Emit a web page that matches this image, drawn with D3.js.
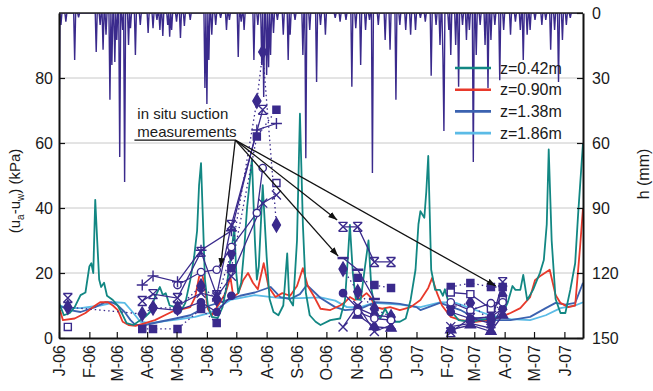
<!DOCTYPE html>
<html lang="en">
<head>
<meta charset="UTF-8" />
<title>Suction and rainfall</title>
<script src="https://d3js.org/d3.v7.min.js"></script>
<style>
  body { margin: 0; background: #fff; }
  svg text { font-family: "Liberation Sans", Arial, Helvetica, sans-serif; fill: #1a1a1a; }
  .grid line { stroke: #c8c8c8; stroke-width: 1; }
  .axis path, .axis line { stroke: #111; }
  .axis path { stroke-width: 2; }
  .axis line { stroke-width: 1.2; }
  .axis text { font-size: 16px; }
  .model { fill: none; stroke-width: 1.8; stroke-linejoin: round; }
  .rain { fill: none; stroke: #3a2a8c; stroke-width: 1.4; }
  .meas-line { fill: none; stroke: #3a2a8c; stroke-width: 1.3; }
  .note { stroke: #111; stroke-width: 1.3; fill: none; }
</style>
</head>
<body>
<div id="chart"></div>
<script>
// x values are days since 1 Jan 2006
const monthLabels = ['J-06','F-06','M-06','A-06','M-06','J-06','J-06','A-06','S-06','O-06','N-06','D-06',
                     'J-07','F-07','M-07','A-07','M-07','J-07'];
const suctionTicks = [0, 20, 40, 60, 80];
const rainTicks = [0, 30, 60, 90, 120, 150];
const lastDay = 535;

// modelled suction (kPa) at four depths: [day, value]
const z042 = [[0,10.8],[5,7],[11,7.7],[16,9.5],[22,13.2],[27,14],[31,22],[33,23],[35,20],[37,42.5],[39,30],[41,18],
  [43,15.7],[46,17],[49,13],[55,11.7],[60,10],[64,7.7],[69,4.6],[76,4],[83,5.5],[88,6.5],[93,8],[98,12.6],[103,15.7],
  [106,13.2],[109,13.8],[113,10],[119,9.5],[124,8],[129,10.8],[134,17.8],[138,25],[141,33],[143,47],[145,53.8],
  [147,36],[149,18],[152,10],[156,6.5],[162,6.1],[167,9.5],[171,15.7],[175,24],[179,34],[181,20],[183,13.8],
  [186,17],[189,27],[192,40],[197,55],[200,30],[202,18],[204,22],[208,47],[212,25],[215,12],[219,8],[224,7],
  [229,10],[233,26],[235,12],[239,10],[243,30],[246,69],[249,35],[252,14],[256,7],[262,5],[267,4],[277,5.5],
  [287,6],[292,11.7],[295,25],[297,34.8],[300,20],[303,12],[308,11.7],[312,21],[316,30],[319,15],[323,8.6],
  [328,6],[333,9],[338,6],[343,5],[348,5],[354,6],[359,11.7],[364,21],[367,35],[369,39],[373,37],[375,45],
  [377,56],[380,21],[384,14.8],[389,14.8],[392,13],[394,15],[397,11.7],[402,7.7],[408,5.5],[420,5],[430,5.5],
  [440,6],[451,6.5],[458,10.8],[463,16],[466,14.8],[471,14.8],[474,19.4],[478,11.7],[484,14.8],[488,17.8],
  [491,20],[495,24],[498,35],[500,58],[503,30],[507,12],[512,7.7],[517,7.7],[522,14.8],[527,23],[530,38],[535,60]];
const z090 = [[1,8.6],[4,5.5],[16,6],[27,7.7],[37,10],[42,11],[50,11],[55,10],[60,8.6],[65,5],[71,4],[78,3.7],
  [88,4.6],[98,5.5],[108,7],[119,8.6],[126,8.9],[134,9.5],[139,12.6],[143,18.8],[146,20],[149,15.4],[152,9],
  [156,7],[164,10.8],[170,13.8],[175,18.8],[178,12.6],[183,13.8],[188,17.8],[193,20],[198,17],[203,15],[209,23],
  [214,15.7],[221,12.6],[228,13.8],[236,13],[243,16],[249,21.5],[254,16],[260,13],[267,9],[277,8.6],[287,10],
  [292,11],[297,12.6],[302,11.7],[308,12.3],[314,13.8],[318,12.6],[323,9.5],[330,9],[338,9.5],[348,8.6],
  [359,9.5],[369,11.7],[377,15.4],[381,18.5],[386,13.8],[391,10],[400,6.5],[410,5.5],[425,5],[440,5.5],
  [451,6.5],[461,7.7],[471,9.2],[481,12.6],[486,17.8],[491,19],[501,21],[507,13.2],[512,10.8],[520,9.5],
  [527,10],[532,28],[535,40]];
const z138 = [[0,10],[11,8.6],[22,8],[37,9.5],[47,11],[54,11],[60,10],[67,8],[73,5.5],[78,4],[88,4],[103,5],
  [119,6],[134,7],[144,8.6],[154,10],[170,11.5],[185,13],[200,14],[216,15.7],[226,12.6],[236,12],[246,13.5],
  [253,16.3],[267,12.3],[282,9.5],[292,8.6],[308,9],[323,11],[338,10.8],[348,10.5],[365,9.5],[369,8.6],
  [389,10.8],[410,8.6],[425,6.1],[440,5.5],[461,5.5],[481,6.5],[497,9.2],[507,10.8],[517,10.3],[527,10.8],[535,17]];
const z186 = [[0,10],[11,9.2],[22,9.2],[42,10],[57,11],[67,10.8],[76,7.7],[83,5],[93,4.6],[108,5.2],[124,5.8],
  [139,6.5],[154,7.7],[175,11.7],[200,13.2],[226,12.3],[246,12.3],[267,12.5],[282,11.5],[294,9.5],[308,9.5],
  [321,10.8],[348,10.3],[369,9.5],[389,11],[405,10.8],[420,9.2],[440,7],[461,5.8],[481,5.5],[497,7],[512,9.2],
  [527,10],[535,11]];

// daily rainfall h (mm): [day, mm]; other days dry
const rainEvents = [[0,61],[2,5.5],[7,4],[16,21.7],[20,2],[38,18],[42,5.5],[45,17],[48,10],[52,40],[54,24],
  [57,22.6],[59,12.5],[62,66.5],[65,7.8],[67,78],[71,14.8],[73,7],[78,19.4],[83,5.5],[91,9.2],[96,7],[100,3.2],
  [103,7.8],[106,10.6],[111,5.5],[113,11],[115,7.8],[120,4],[124,11.5],[128,6],[134,3.2],[149,34.6],[151,42],
  [153,21.7],[156,10],[160,5.5],[165,2.3],[171,7.8],[174,3.2],[183,20.3],[186,4],[189,7.8],[199,21.7],[203,5.5],
  [207,24],[209,38.8],[212,28.6],[214,25],[216,19.4],[219,9.2],[223,3.2],[229,10],[234,21.7],[236,10],[241,3.2],
  [249,19.4],[252,67],[256,7.8],[263,31.8],[267,5.5],[272,10],[282,2.3],[287,4],[293,3.2],[299,34],[303,7],
  [308,24],[313,7.8],[317,3.2],[320,73.8],[326,5.5],[333,12.5],[338,17],[344,40],[348,5.5],[354,7.8],[359,10],
  [364,7.8],[369,2.3],[374,4],[380,29],[385,5.5],[389,14.8],[392,20.8],[393,54.5],[398,7.8],[400,19.4],
  [405,14.8],[408,34],[412,5.5],[416,12.5],[419,7.8],[423,68.8],[426,19.4],[430,5.5],[435,14.8],[438,34.6],
  [441,12.5],[445,5.5],[450,31],[454,7.8],[461,10],[466,4],[471,7.8],[474,21.7],[478,10],[481,7.8],[486,3.2],
  [493,5.5],[497,3.2],[502,17],[506,7.8],[510,31.8],[514,12.5],[518,5.5],[522,2.3]];

// in situ suction measurements (kPa): [day, value], null = not connected
const measPlus = [[85,16.3],[96,19.1],[121,17.3],[145,27],[176,33],[202,64],[222,66]];
const measStar = [[9,12.3],null,[85,11.4],[96,13.5],[121,12.3],[145,26.5],[161,13.2],[176,34.8],[208,70.2],null,
  [290,34.2],[305,34.2],[322,23.4],[339,23.4],null,[400,1.8],[420,6.2],[441,4.5],[453,17.2]];
const measDiamond = [[9,9.5],[85,7.4],[96,9.3],[121,9.2],[145,16],[161,12],[176,26],[202,72.9],[208,88],[222,34.8],null,
  [290,21.2],[305,14.2],[322,9],[339,6.5],null,[400,9.5],[420,10.8],[441,5],[453,13]];
const measSquare = [[85,2.8],[96,2.8],[121,2.8],[145,8.9],[161,4.6],[176,21.5],[202,62],[222,70.2],null,
  [305,18.5],[322,16.3],[339,15.4],null,[400,15.7],[420,16.9],[441,15.7],[453,15.7]];
const measOpenCircle = [[121,16.3],[145,20.3],[161,21],[176,28],[202,38.5],[208,52.3],null,
  [305,8],[322,6],[339,5.5],null,[400,11],[420,8.5],[441,10.7],[453,11]];
const measCross = [[121,10],[145,13.8],[161,12.6],[176,19],[208,41.5],[222,44],null,
  [290,3.4],[305,10],[322,2],[339,4],null,[400,3.5],[420,4.5],[441,3],[453,10]];
const measOpenSquare = [[9,3.4],null,[222,47.7],null,[400,14],[420,13.5],[441,9],[453,11.7]];
const measDash = [[290,24.6],[305,21],[322,12]];
const measCircle = [[96,9.3],[121,8.5],[145,11],[161,8],[176,13],null,
  [290,13.8],[305,9.2],[322,7],[339,6.5],null,[400,8],[420,6],[441,6.5],[453,9]];
const measTriangle = [[305,7],[322,3.5],[339,3],null,[400,2.5],[420,4],[441,2],[453,7]];

// annotation: hub and arrow targets as [day, kPa]
const noteHub = [180, 60.9];
const noteTargets = [[165, 21.8], [284, 36.3], [285, 25.2], [446, 16]];

const W = 653, H = 391;
const margin = { top: 13, right: 70, bottom: 53, left: 59 };

const svg = d3.select('#chart').append('svg').attr('width', W).attr('height', H);

const start = new Date(Date.UTC(2006, 0, 1));
const dayDate = d => d3.utcDay.offset(start, d);
const x = d3.scaleUtc().domain([start, dayDate(lastDay)]).range([margin.left, W - margin.right]);
const y = d3.scaleLinear().domain([0, 100]).range([H - margin.bottom, margin.top]);
const yRain = d3.scaleLinear().domain([0, 150]).range([margin.top, H - margin.bottom]);
const xd = d => x(dayDate(d));

svg.append('defs').append('clipPath').attr('id', 'plot')
  .append('rect').attr('x', margin.left).attr('y', margin.top)
  .attr('width', W - margin.right - margin.left).attr('height', H - margin.bottom - margin.top);
svg.select('defs').append('marker')
  .attr('id', 'arrow').attr('viewBox', '0 0 10 10').attr('refX', 10).attr('refY', 5)
  .attr('markerWidth', 9).attr('markerHeight', 9).attr('markerUnits', 'userSpaceOnUse')
  .attr('orient', 'auto')
  .append('path').attr('d', 'M0,1.5L10,5L0,8.5Z').attr('fill', '#111');

// grid
svg.append('g').attr('class', 'grid')
  .selectAll('line').data(suctionTicks.filter(d => d > 0)).join('line')
  .attr('x1', margin.left).attr('x2', W - margin.right)
  .attr('y1', d => y(d)).attr('y2', d => y(d));

const plot = svg.append('g').attr('clip-path', 'url(#plot)');

// model lines
const modelLine = d3.line().x(d => xd(d[0])).y(d => y(d[1]));
const models = [
  { data: z186, color: '#5bbbe6', label: 'z=1.86m' },
  { data: z138, color: '#3b62b0', label: 'z=1.38m' },
  { data: z090, color: '#e8392b', label: 'z=0.90m' },
  { data: z042, color: '#128783', label: 'z=0.42m' }
];
plot.selectAll('.model').data(models).join('path')
  .attr('class', 'model')
  .attr('stroke', d => d.color)
  .attr('d', d => modelLine(d.data));

// measurements
const purple = '#3a2a8c';
function markerPath(shape) {
  const r = 4.5;
  switch (shape) {
    case 'plus': return `M${-r-1},0H${r+1}M0,${-r-1}V${r+1}`;
    case 'cross': return `M${-r},${-r}L${r},${r}M${-r},${r}L${r},${-r}`;
    case 'star': return `M${-r},${-r}L${r},${r}M${-r},${r}L${r},${-r}M${-r},${-r}H${r}M${-r},${r}H${r}`;
    case 'dash': return `M${-r-1},0H${r+1}`;
    case 'diamond': return d3.symbol(d3.symbolDiamond, 56)();
    case 'square': return d3.symbol(d3.symbolSquare, 50)();
    case 'circle': return d3.symbol(d3.symbolCircle, 42)();
    case 'triangle': return d3.symbol(d3.symbolTriangle, 44)();
  }
}
const measSeries = [
  { data: measSquare, shape: 'square', fill: purple, dotted: true },
  { data: measDiamond, shape: 'diamond', fill: purple, dotted: true },
  { data: measCircle, shape: 'circle', fill: purple, dotted: false },
  { data: measTriangle, shape: 'triangle', fill: purple, dotted: false },
  { data: measCross, shape: 'cross', fill: 'none', dotted: false },
  { data: measOpenSquare, shape: 'square', fill: '#fff', dotted: false },
  { data: measOpenCircle, shape: 'circle', fill: '#fff', dotted: false },
  { data: measDash, shape: 'dash', fill: 'none', dotted: false },
  { data: measStar, shape: 'star', fill: 'none', dotted: false },
  { data: measPlus, shape: 'plus', fill: 'none', dotted: false }
];
const measLine = d3.line().defined(d => d).x(d => xd(d[0])).y(d => y(d[1]));
const mg = plot.append('g');
mg.selectAll('.meas-line').data(measSeries).join('path')
  .attr('class', 'meas-line')
  .attr('stroke-dasharray', d => d.dotted ? '1.5,3' : null)
  .attr('stroke-width', d => d.dotted ? 1.8 : 1.3)
  .attr('d', d => measLine(d.data));
measSeries.forEach(s => {
  mg.append('g').selectAll('path').data(s.data.filter(d => d)).join('path')
    .attr('transform', d => `translate(${xd(d[0])},${y(d[1])})`)
    .attr('d', markerPath(s.shape))
    .attr('fill', s.fill)
    .attr('stroke', purple)
    .attr('stroke-width', s.shape === 'dash' ? 2.5 : 1.4);
});

// rainfall (right axis, hanging from the top)
const rainByDay = new Map(rainEvents);
const rainDaily = d3.range(0, lastDay + 1).map(d => [d, rainByDay.get(d) || 0]);
plot.append('path').attr('class', 'rain')
  .attr('d', d3.line().x(d => xd(d[0])).y(d => yRain(d[1]))(rainDaily));

// top frame
svg.append('line').attr('x1', margin.left).attr('x2', W - margin.right)
  .attr('y1', margin.top).attr('y2', margin.top).attr('stroke', '#222').attr('stroke-width', 1.5);

// axes
svg.append('g').attr('class', 'axis')
  .attr('transform', `translate(${margin.left},0)`)
  .call(d3.axisLeft(y).tickValues(suctionTicks).tickSizeInner(-6).tickSizeOuter(0).tickPadding(6));
svg.append('g').attr('class', 'axis')
  .attr('transform', `translate(${W - margin.right},0)`)
  .call(d3.axisRight(yRain).tickValues(rainTicks).tickSizeInner(-6).tickSizeOuter(0).tickPadding(9));
const months = d3.utcMonth.range(start, dayDate(lastDay));
svg.append('g').attr('class', 'axis')
  .attr('transform', `translate(0,${H - margin.bottom})`)
  .call(d3.axisBottom(x).tickValues(months).tickSizeInner(-6).tickSizeOuter(0)
    .tickFormat((d, i) => monthLabels[i]))
  .selectAll('text')
  .attr('transform', 'rotate(-90)')
  .attr('x', -7).attr('y', 0).attr('dy', '0.35em')
  .attr('text-anchor', 'end');

// axis titles
const yTitle = svg.append('text')
  .attr('transform', `translate(20,191) rotate(-90)`)
  .attr('text-anchor', 'middle').attr('font-size', 15);
yTitle.append('tspan').text('(u');
yTitle.append('tspan').text('a').attr('font-size', 10).attr('dy', 4);
yTitle.append('tspan').text('-u').attr('dy', -4);
yTitle.append('tspan').text('w').attr('font-size', 10).attr('dy', 4);
yTitle.append('tspan').text(') (kPa)').attr('dy', -4);

svg.append('text')
  .attr('transform', `translate(649,174) rotate(-90)`)
  .attr('text-anchor', 'middle').attr('font-size', 16)
  .text('h (mm)');

// legend
const legend = svg.append('g').attr('transform', 'translate(455,68)');
const legendItems = models.slice().reverse();
legendItems.forEach((m, i) => {
  const g = legend.append('g').attr('transform', `translate(0,${i * 21.7})`);
  g.append('line').attr('x1', 0).attr('x2', 36).attr('stroke', m.color).attr('stroke-width', 2.6);
  g.append('text').attr('x', 45).attr('dy', '0.36em').attr('font-size', 16).text(m.label);
});

// annotation
const hx = xd(noteHub[0]), hy = y(noteHub[1]);
svg.append('text').attr('x', xd(80)).attr('y', y(67.4)).attr('font-size', 15).text('in situ suction');
svg.append('text').attr('x', xd(80)).attr('y', y(62)).attr('font-size', 15).text('measurements');
svg.append('line').attr('class', 'note')
  .attr('x1', xd(77)).attr('x2', hx).attr('y1', hy).attr('y2', hy).attr('stroke-width', 1.6);
svg.selectAll('.arrow').data(noteTargets).join('line')
  .attr('class', 'note arrow')
  .attr('x1', hx).attr('y1', hy)
  .attr('x2', d => xd(d[0])).attr('y2', d => y(d[1]))
  .attr('marker-end', 'url(#arrow)');
</script>
</body>
</html>
